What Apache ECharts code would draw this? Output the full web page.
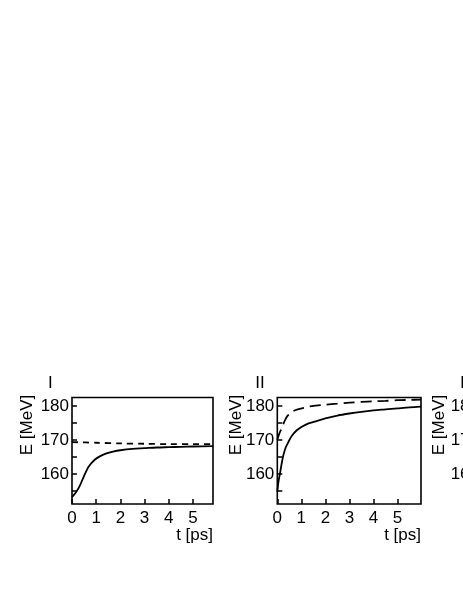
<!DOCTYPE html>
<html>
<head>
<meta charset="utf-8">
<script src="https://cdn.jsdelivr.net/npm/echarts@6/dist/echarts.min.js"></script>
<style>
  html, body { margin: 0; padding: 0; background: #fff; }
  #chart { width: 463px; height: 599px; }
</style>
</head>
<body>
<div id="chart"></div>
<script>
// panel titles
var panelNames = ["I", "II", "III"];
// axis ticks / labels
var xTicks = [0, 1, 2, 3, 4, 5];
var yTicks = [155, 160, 165, 170, 175, 180];
var yLabels = [160, 170, 180];

// panel I
var tI = [0, 0.18, 0.32, 0.5, 0.7, 0.94, 1.15, 1.4, 1.7, 2.0, 2.5, 3.0, 3.5, 4.0, 4.5, 5.0, 5.83];
var eISolid = [153.2, 154.8, 156.5, 159.5, 162.3, 164.2, 165.2, 166.0, 166.6, 167.0, 167.4, 167.6, 167.8, 167.9, 168.0, 168.1, 168.2];
var tIDash = [0, 1, 2, 3, 4, 5, 5.83];
var eIDash = [169.4, 169.2, 169.0, 168.9, 168.8, 168.8, 168.8];

// panel II
var tIISolid = [0, 0.05, 0.11, 0.18, 0.25, 0.35, 0.46, 0.6, 0.8, 1.02, 1.3, 1.6, 2.0, 2.5, 3.0, 3.5, 4.0, 4.5, 5.0, 5.5, 5.98];
var eIISolid = [154.8, 157.8, 160.1, 163.0, 165.5, 167.8, 169.4, 171.2, 172.8, 173.9, 174.9, 175.5, 176.4, 177.2, 177.8, 178.3, 178.7, 179.0, 179.3, 179.6, 179.8];
var tIIDash = [0, 0.08, 0.18, 0.28, 0.39, 0.5, 0.67, 0.85, 1.02, 1.3, 1.6, 2.0, 2.5, 3.0, 3.5, 4.0, 4.5, 5.0, 5.5, 5.98];
var eIIDash = [170.0, 171.8, 173.4, 175.2, 176.8, 177.6, 178.5, 179.0, 179.3, 179.8, 180.1, 180.4, 180.7, 181.0, 181.2, 181.4, 181.5, 181.7, 181.8, 181.9];

var font = "'Liberation Sans', Arial, sans-serif";
var gridLefts = [72, 277.3, 482];
var gridWidths = [141, 143.7, 143.7];
var xMaxes = [5.83, 5.98, 5.98];
var titleOffsets = [-24, -22, -22];
var nameOffsets = [-45, -41, -42.5];

function pairs(t, e) {
  return t.map(function (v, i) { return [v, e[i]]; });
}

var chart = echarts.init(document.getElementById("chart"));

var grids = [], xAxes = [], yAxes = [], titles = [], graphics = [];
for (var i = 0; i < 3; i++) {
  grids.push({
    left: gridLefts[i], top: 397.5, width: gridWidths[i], height: 106.5,
    show: true, borderColor: "#000", borderWidth: 1.6, backgroundColor: "transparent"
  });
  xAxes.push({
    type: "value", gridIndex: i, min: 0, max: xMaxes[i],
    axisLine: { show: false },
    axisTick: { show: true, inside: true, length: 5, customValues: xTicks, lineStyle: { color: "#000", width: 1.5 } },
    axisLabel: { customValues: xTicks, color: "#000", fontSize: 17, fontFamily: font, margin: 6 },
    splitLine: { show: false }
  });
  yAxes.push({
    type: "value", gridIndex: i, min: 151.2, max: 182.5,
    axisLine: { show: false },
    axisTick: { show: true, inside: true, length: 5, customValues: yTicks, lineStyle: { color: "#000", width: 1.5 } },
    axisLabel: { customValues: yLabels, color: "#000", fontSize: 17, fontFamily: font, margin: 3 },
    splitLine: { show: false }
  });
  titles.push({
    text: panelNames[i], left: gridLefts[i] + titleOffsets[i], top: 375, padding: 0,
    textStyle: { color: "#000", fontSize: 17, fontWeight: "normal", fontFamily: font }
  });
  graphics.push({
    type: "text", x: gridLefts[i] + nameOffsets[i], y: 425, rotation: Math.PI / 2,
    style: { text: "E [MeV]", fill: "#000", font: "17px " + font, align: "center", verticalAlign: "middle" }
  });
  graphics.push({
    type: "text", x: gridLefts[i] + gridWidths[i], y: 535,
    style: { text: "t [ps]", fill: "#000", font: "17px " + font, align: "right", verticalAlign: "middle" }
  });
}

function line(idx, data, dash) {
  return {
    type: "line", xAxisIndex: idx, yAxisIndex: idx, data: data,
    showSymbol: false, smooth: 0.3, silent: true,
    lineStyle: { color: "#000", width: 1.8, type: dash || "solid" }
  };
}

chart.setOption({
  backgroundColor: "#fff",
  animation: false,
  title: titles,
  grid: grids,
  xAxis: xAxes,
  yAxis: yAxes,
  graphic: graphics,
  series: [
    line(0, pairs(tI, eISolid)),
    line(0, pairs(tIDash, eIDash), [6, 5]),
    line(1, pairs(tIISolid, eIISolid)),
    line(1, pairs(tIIDash, eIIDash), [11, 6])
  ]
});
</script>
</body>
</html>
